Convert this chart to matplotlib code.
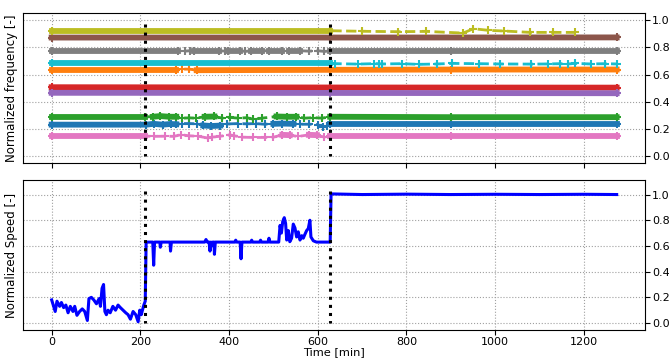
import numpy as np
import matplotlib
matplotlib.use("Agg")
import matplotlib.pyplot as plt

# ---- normalized frequency, 10 channels (tab10 colours C0..C9) ----
# dense = time ranges where the samples form a solid noisy band
blue_t = [0, 213, 230, 250, 268, 281, 295, 310, 328, 342, 360, 380, 395, 420, 440, 460,
          480, 500, 520, 545, 560, 580, 600, 612, 620, 628, 900, 1274]
blue_v = [0.232, 0.232, 0.238, 0.232, 0.237, 0.235, 0.24, 0.24, 0.238, 0.226, 0.222, 0.225,
          0.237, 0.24, 0.238, 0.24, 0.235, 0.238, 0.24, 0.238, 0.235, 0.235, 0.232, 0.215,
          0.222, 0.236, 0.236, 0.236]
blue_dense = [(0, 281), (342, 380), (500, 545), (628, 1274)]

orange_t = [0, 280, 295, 310, 327, 628, 900, 1274]
orange_v = [0.632, 0.632, 0.64, 0.64, 0.632, 0.635, 0.637, 0.637]
orange_dense = [(0, 280), (327, 1274)]

green_t = [0, 210, 228, 245, 265, 281, 295, 310, 325, 345, 367, 385, 402, 420, 440, 455,
           475, 507, 530, 552, 570, 590, 610, 628, 900, 1274]
green_v = [0.29, 0.29, 0.29, 0.295, 0.29, 0.29, 0.28, 0.282, 0.28, 0.29, 0.292, 0.28, 0.285,
           0.28, 0.283, 0.272, 0.28, 0.292, 0.29, 0.29, 0.28, 0.283, 0.28, 0.29, 0.287, 0.287]
green_dense = [(0, 210), (228, 281), (345, 367), (507, 552), (628, 1274)]

red_t = [0, 628, 1274]
red_v = [0.507, 0.505, 0.504]
red_dense = [(0, 1274)]

purple_t = [0, 628, 1274]
purple_v = [0.466, 0.465, 0.463]
purple_dense = [(0, 1274)]

brown_t = [0, 628, 1274]
brown_v = [0.872, 0.872, 0.873]
brown_dense = [(0, 1274)]

pink_t = [0, 210, 230, 255, 275, 292, 310, 330, 352, 362, 380, 402, 412, 430, 455, 480,
          500, 520, 537, 555, 580, 598, 615, 628, 900, 1274]
pink_v = [0.148, 0.148, 0.146, 0.147, 0.146, 0.158, 0.15, 0.147, 0.134, 0.14, 0.147, 0.157,
          0.15, 0.14, 0.138, 0.138, 0.14, 0.157, 0.155, 0.145, 0.157, 0.155, 0.14, 0.146,
          0.146, 0.146]
pink_dense = [(0, 210), (520, 537), (580, 598), (628, 1274)]

gray_t = [0, 285, 300, 311, 322, 378, 390, 398, 425, 437, 450, 475, 490, 520, 535, 560,
          580, 600, 615, 628, 900, 1274]
gray_v = [0.775, 0.775, 0.772, 0.775, 0.775, 0.775, 0.772, 0.775, 0.775, 0.77, 0.775, 0.775,
          0.775, 0.775, 0.775, 0.775, 0.772, 0.775, 0.77, 0.772, 0.772, 0.772]
gray_dense = [(0, 285), (322, 378), (398, 425), (450, 475), (490, 520), (535, 560), (628, 1274)]

olive_t = [0, 628, 700, 780, 845, 928, 951, 985, 1020, 1079, 1130, 1180]
olive_v = [0.922, 0.922, 0.918, 0.915, 0.917, 0.905, 0.937, 0.925, 0.92, 0.91, 0.91, 0.91]
olive_dense = [(0, 628)]

cyan_t = [0, 628, 640, 690, 726, 737, 745, 790, 828, 870, 903, 963, 1010, 1080, 1120, 1146,
          1165, 1180, 1215, 1248, 1274]
cyan_v = [0.682, 0.682, 0.68, 0.677, 0.68, 0.68, 0.678, 0.68, 0.675, 0.678, 0.682, 0.68,
          0.678, 0.677, 0.678, 0.68, 0.678, 0.682, 0.678, 0.68, 0.678]
cyan_dense = [(0, 628)]

channels = [
    (blue_t, blue_v, blue_dense),
    (orange_t, orange_v, orange_dense),
    (green_t, green_v, green_dense),
    (red_t, red_v, red_dense),
    (purple_t, purple_v, purple_dense),
    (brown_t, brown_v, brown_dense),
    (pink_t, pink_v, pink_dense),
    (gray_t, gray_v, gray_dense),
    (olive_t, olive_v, olive_dense),
    (cyan_t, cyan_v, cyan_dense),
]

# ---- normalized speed ----
speed_t = [0, 8, 12, 18, 22, 27, 32, 37, 42, 48, 52, 57, 63, 69, 74.5, 80.5, 84, 89.5, 95,
           101, 107, 110, 113.6, 117, 120, 123.4, 127, 132, 138, 144, 149.7, 155, 161, 167,
           172.3, 177.6, 183.6, 189.6, 195, 198.6, 202, 207.8, 211, 213,
           228, 230, 232, 244, 245, 247, 267, 268, 270, 345, 348, 351, 355, 357, 359, 361,
           363, 366, 367, 369, 413, 415, 417, 425, 427, 429, 449, 451, 453, 469, 471, 473,
           488, 490, 492, 512, 515, 518, 521, 524.5, 527.5, 530, 533.5, 537, 541, 544.8,
           548.6, 552.3, 556, 560, 564, 567.3, 571, 575, 578.6, 582.3, 584.6, 590, 597, 628,
           630, 700, 800, 900, 1000, 1100, 1200, 1274]
speed_v = [0.18, 0.09, 0.17, 0.13, 0.16, 0.12, 0.14, 0.08, 0.13, 0.09, 0.13, 0.06, 0.09, 0.11,
           0.09, 0.02, 0.19, 0.20, 0.18, 0.15, 0.19, 0.13, 0.27, 0.30, 0.09, 0.065, 0.10, 0.08,
           0.13, 0.10, 0.14, 0.12, 0.10, 0.08, 0.065, 0.03, 0.09, 0.065, 0.01, 0.10, 0.065,
           0.14, 0.17, 0.63,
           0.63, 0.45, 0.63, 0.63, 0.59, 0.63, 0.63, 0.56, 0.63, 0.63, 0.65, 0.63, 0.63, 0.56,
           0.63, 0.60, 0.63, 0.63, 0.535, 0.63, 0.63, 0.645, 0.63, 0.63, 0.50, 0.63, 0.63,
           0.645, 0.63, 0.63, 0.645, 0.63, 0.63, 0.66, 0.63, 0.63, 0.76, 0.70, 0.79, 0.82,
           0.775, 0.646, 0.72, 0.633, 0.66, 0.77, 0.74, 0.67, 0.71, 0.646, 0.68, 0.66, 0.69,
           0.72, 0.735, 0.80, 0.67, 0.64, 0.63, 0.63,
           1.005, 1.0, 1.003, 1.0, 1.002, 1.0, 1.002, 1.0]

events = [210, 628]

fig, (ax1, ax2) = plt.subplots(2, 1, sharex=True, figsize=(6.69, 3.6), dpi=100)
fig.subplots_adjust(left=0.035, right=0.964, top=0.963, bottom=0.083, hspace=0.116)

for i, (t, v, dense) in enumerate(channels):
    c = "C%d" % i
    t = np.array(t)
    v = np.array(v)
    for a, b in dense:
        m = (t >= a) & (t <= b)
        ax1.plot(t[m], v[m], "-", color=c, lw=4.2)
    ax1.plot(t, v, "--", color=c, lw=2, marker="+", ms=6, mew=1.5)

for x in events:
    ax1.plot([x, x], [0.97, 0.0], ":", color="k", lw=2.2, zorder=5)
    ax2.plot([x, x], [1.03, 0.0], ":", color="k", lw=2.2, zorder=5)

ax2.plot(speed_t, speed_v, "-", color="blue", lw=2.2)

ax1.set_ylim(-0.05, 1.05)
ax2.set_ylim(-0.055, 1.11)
ax1.set_ylabel("Normalized frequency [-]", fontsize=8.5)
ax2.set_ylabel("Normalized Speed [-]", fontsize=8.5)
ax2.set_xlabel("Time [min]", fontsize=8.2, labelpad=0)
ax2.set_xticks([0, 200, 400, 600, 800, 1000, 1200])

for ax in (ax1, ax2):
    ax.yaxis.tick_right()
    ax.set_yticks([0.0, 0.2, 0.4, 0.6, 0.8, 1.0])
    ax.tick_params(labelsize=8, pad=1.5)
    ax.grid(True, ls=":", color="#a0a0a0", lw=0.8)

fig.savefig("out.png", dpi=100)
